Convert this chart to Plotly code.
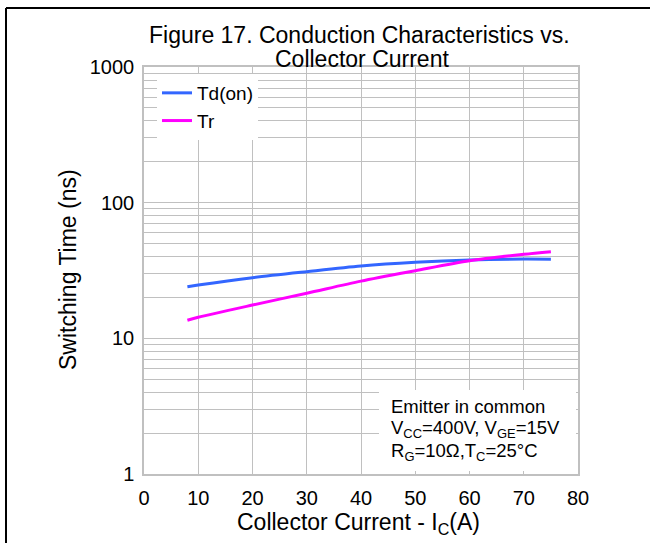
import plotly.graph_objects as go

# Data
current = [8, 10, 20, 30, 40, 50, 60, 70, 75]
td_on = [24.0, 24.7, 28.0, 31.0, 34.1, 36.3, 37.8, 38.4, 38.3]
tr = [13.6, 14.3, 17.6, 21.5, 26.4, 31.5, 37.3, 41.6, 43.5]

x_ticks = [0, 10, 20, 30, 40, 50, 60, 70, 80]
y_grid = [m * 10 ** e for e in range(0, 3) for m in range(1, 10)] + [1000]
y_text = [str(v) if v in (1, 10, 100, 1000) else "" for v in y_grid]

FONT = "Arial, Liberation Sans, sans-serif"
W, H = 650, 543
L, R, T, B = 144, 72, 67, 69
PW, PH = W - L - R, H - T - B


def px(x):
    return (x - L) / PW


def py(y):
    return (H - B - y) / PH


fig = go.Figure()
fig.add_trace(go.Scatter(x=current, y=td_on, name="Td(on)", mode="lines",
                         line=dict(color="#3366ff", width=3, shape="spline", smoothing=0.8)))
fig.add_trace(go.Scatter(x=current, y=tr, name="Tr", mode="lines",
                         line=dict(color="#ff00ff", width=3, shape="spline", smoothing=0.8)))

grid = "#c0c0c0"
fig.update_layout(
    width=W, height=H,
    margin=dict(l=L, r=R, t=T, b=B),
    paper_bgcolor="white", plot_bgcolor="white",
    font=dict(family=FONT, color="black", size=20),
    showlegend=True,
    legend=dict(x=px(157), y=py(74), xanchor="left", yanchor="top",
                bgcolor="white", borderwidth=0, font=dict(size=19),
                tracegroupgap=0),
    xaxis=dict(range=[0, 80], tickvals=x_ticks, showgrid=True, gridcolor=grid,
               gridwidth=1, showline=True, linecolor=grid, linewidth=1.5, mirror=True,
               zeroline=False, ticks="", tickfont=dict(size=20), ticklabelstandoff=5),
    yaxis=dict(type="log", range=[0, 3], tickvals=y_grid, ticktext=y_text,
               showgrid=True, gridcolor=grid, gridwidth=1, showline=True,
               linecolor=grid, linewidth=1.5, mirror=True, zeroline=False,
               ticks="", tickfont=dict(size=20), ticklabelstandoff=4),
)

# Titles
fig.add_annotation(text="Figure 17. Conduction Characteristics vs.", xref="paper", yref="paper",
                   x=px(359), y=py(35), xanchor="center", yanchor="middle", showarrow=False,
                   font=dict(size=23))
fig.add_annotation(text="Collector Current", xref="paper", yref="paper",
                   x=px(362), y=py(59), xanchor="center", yanchor="middle", showarrow=False,
                   font=dict(size=23))
fig.add_annotation(text="Collector Current - I<sub>C</sub>(A)", xref="paper", yref="paper",
                   x=px(358), y=py(523), xanchor="center", yanchor="middle", showarrow=False,
                   font=dict(size=23))
fig.add_annotation(text="Switching Time (ns)", xref="paper", yref="paper", textangle=-90,
                   x=px(68), y=py(270), xanchor="center", yanchor="middle", showarrow=False,
                   font=dict(size=23))

# Conditions box
fig.add_shape(type="rect", xref="paper", yref="paper", x0=px(379), x1=px(576),
              y0=py(471), y1=py(390), fillcolor="white", line=dict(width=0), layer="above")
cond = ["Emitter in common",
        "V<sub>CC</sub>=400V, V<sub>GE</sub>=15V",
        "R<sub>G</sub>=10Ω,T<sub>C</sub>=25°C"]
for i, t in enumerate(cond):
    fig.add_annotation(text=t, xref="paper", yref="paper", x=px(389), y=py(406 + 23 * i),
                       xanchor="left", yanchor="middle", showarrow=False, font=dict(size=18.5))

# Frame lines
fig.add_shape(type="line", xref="paper", yref="paper", x0=px(6), x1=px(6), y0=py(8), y1=py(545),
              line=dict(color="black", width=2))
fig.add_shape(type="line", xref="paper", yref="paper", x0=px(6), x1=px(652), y0=py(8), y1=py(8),
              line=dict(color="black", width=2))

fig.write_html("out.html")
